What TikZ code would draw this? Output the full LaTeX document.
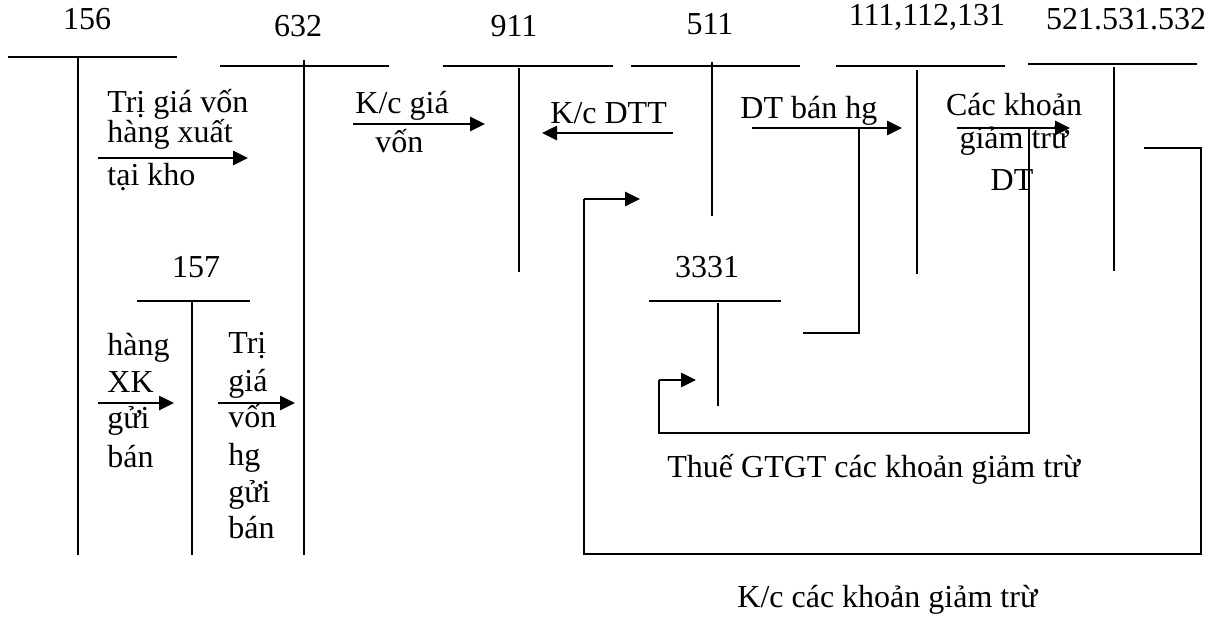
\documentclass[tikz,border=0pt]{standalone}
\usepackage{fontspec}
\setmainfont{Liberation Serif}
\usetikzlibrary{arrows.meta}
\begin{document}
\begin{tikzpicture}[x=0.5pt,y=-0.5pt,
  tline/.style={line width=0.9pt},
  flow/.style={line width=1.3pt,-{Triangle[length=7.5pt,width=7pt]}},
  plainflow/.style={line width=1.1pt},
  txt/.style={inner sep=0pt,anchor=base west,font=\fontsize{16pt}{18.5pt}\selectfont},
  ctxt/.style={inner sep=0pt,anchor=base,font=\fontsize{16pt}{18.5pt}\selectfont},
  num/.style={inner sep=0pt,font=\fontsize{16pt}{18.5pt}\selectfont}]
\useasboundingbox (0,0) rectangle (1218,616);

% account labels
\node[num] (n156) at (87,19) {156};
\node[num] (n632) at (298,26) {632};
\node[num] (n911) at (514,26) {911};
\node[num] (n511) at (710,24) {511};
\node[num] (n111) at (927,17) {111,112,131};
\node[num] (n521) at (1126,19) {521.531.532};
\node[num] (n157) at (196,267) {157};
\node[num] (n3331) at (707,267) {3331};

% T accounts
\draw[tline] (8,57) -- (177,57);   \draw[tline] (78,57) -- (78,555);
\draw[tline] (220,66) -- (389,66); \draw[tline] (304,60) -- (304,555);
\draw[tline] (443,66) -- (613,66); \draw[tline] (519,68) -- (519,272);
\draw[tline] (631,66) -- (800,66); \draw[tline] (712,62) -- (712,216);
\draw[tline] (836,66) -- (1005,66); \draw[tline] (917,70) -- (917,274);
\draw[tline] (1028,64) -- (1197,64); \draw[tline] (1114,67) -- (1114,271);
\draw[tline] (137,301) -- (250,301); \draw[tline] (192,301) -- (192,555);
\draw[tline] (649,301) -- (781,301); \draw[tline] (718,303) -- (718,406);

% connector coordinates
\coordinate (a1s) at (98,158);  \coordinate (a1e) at (248,158);
\coordinate (a2s) at (353,124); \coordinate (a2e) at (485,124);
\coordinate (a3s) at (673,133); \coordinate (a3e) at (542,133);
\coordinate (a4s) at (752,128); \coordinate (a4e) at (902,128);
\coordinate (b4t) at (859,128); \coordinate (b4c) at (859,333); \coordinate (b4e) at (803,333);
\coordinate (a5s) at (957,128); \coordinate (a5e) at (1070,128);
\coordinate (b5t) at (1029,128); \coordinate (b5c) at (1029,433);
\coordinate (b5d) at (659,433); \coordinate (b5u) at (659,380); \coordinate (b5e) at (696,380);
\coordinate (c6s) at (1144,148); \coordinate (c6a) at (1201,148); \coordinate (c6b) at (1201,554);
\coordinate (c6c) at (584,554); \coordinate (c6d) at (584,199); \coordinate (c6e) at (640,199);
\coordinate (a7s) at (98,403);  \coordinate (a7e) at (174,403);
\coordinate (a8s) at (218,403); \coordinate (a8e) at (295,403);

% arrows
\draw[flow] (a1s) -- (a1e);
\draw[flow] (a2s) -- (a2e);
\draw[flow] (a3s) -- (a3e);
\draw[flow] (a4s) -- (a4e);
\draw[plainflow] (b4t) -- (b4c) -- (b4e);
\draw[flow] (a5s) -- (a5e);
\draw[plainflow] (b5t) -- (b5c) -- (b5d) -- (b5u);
\draw[flow] (b5u) -- (b5e);
\draw[plainflow,line width=1.3pt] (c6s) -- (c6a) -- (c6b) -- (c6c) -- (c6d);
\draw[flow] (c6d) -- (c6e);
\draw[flow] (a7s) -- (a7e);
\draw[flow] (a8s) -- (a8e);

% texts
\node[txt] (t1a) at (107,112) {Trị giá vốn};
\node[txt] (t1b) at (107,142) {hàng xuất};
\node[txt] (t1c) at (107,185) {tại kho};
\node[txt] (t2a) at (355,113) {K/c giá};
\node[txt] (t2b) at (375,152) {vốn};
\node[txt] (t3) at (550,123) {K/c DTT};
\node[txt] (t4) at (740,118) {DT bán hg};
\node[ctxt] (t5a) at (1014,115) {Các khoản};
\node[ctxt] (t5b) at (1014,148) {giảm trừ};
\node[ctxt] (t5c) at (1012,190) {DT};
\node[txt] (t7a) at (107,355) {hàng};
\node[txt] (t7b) at (107,392) {XK};
\node[txt] (t7c) at (107,428) {gửi};
\node[txt] (t7d) at (107,467) {bán};
\node[txt] (t8a) at (228,353) {Trị};
\node[txt] (t8b) at (228,391) {giá};
\node[txt] (t8c) at (228,427) {vốn};
\node[txt] (t8d) at (228,465) {hg};
\node[txt] (t8e) at (228,502) {gửi};
\node[txt] (t8f) at (228,538) {bán};
\node[txt] (t9) at (667,477) {Thuế GTGT các khoản giảm trừ};
\node[txt] (t10) at (737,607) {K/c các khoản giảm trừ};
\end{tikzpicture}
\end{document}
